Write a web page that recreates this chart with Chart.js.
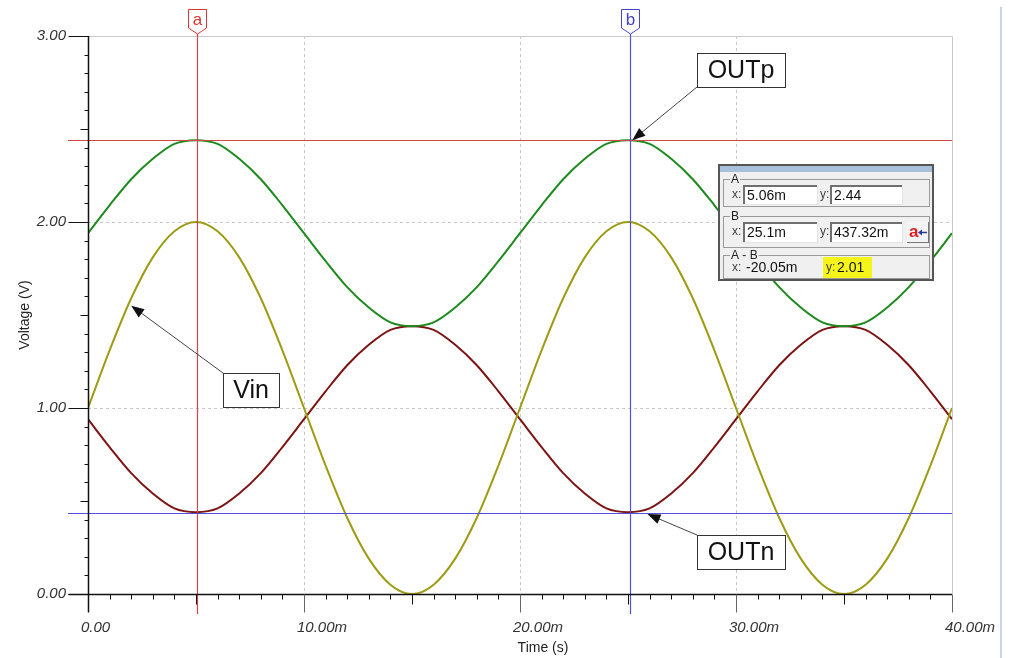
<!DOCTYPE html>
<html>
<head>
<meta charset="utf-8">
<script src="https://cdn.jsdelivr.net/npm/chart.js@4.4.1/dist/chart.umd.min.js"></script>
<style>
  html, body { margin: 0; padding: 0; background: #fff; }
  canvas { display: block; }
</style>
</head>
<body>
<canvas id="scope" width="1013" height="658"></canvas>
<script>
// time axis in ms, one sample per ms
const timeMs = [0,1,2,3,4,5,6,7,8,9,10,11,12,13,14,15,16,17,18,19,20,
                21,22,23,24,25,26,27,28,29,30,31,32,33,34,35,36,37,38,39,40];
const vin  = [1.00,1.31,1.59,1.81,1.95,2.00,1.95,1.81,1.59,1.31,1.00,0.69,0.41,0.19,0.05,0.00,0.05,0.19,0.41,0.69,1.00,
              1.31,1.59,1.81,1.95,2.00,1.95,1.81,1.59,1.31,1.00,0.69,0.41,0.19,0.05,0.00,0.05,0.19,0.41,0.69,1.00];
const outp = [1.94,2.09,2.23,2.34,2.42,2.44,2.42,2.34,2.23,2.09,1.94,1.79,1.65,1.54,1.46,1.44,1.46,1.54,1.65,1.79,1.94,
              2.09,2.23,2.34,2.42,2.44,2.42,2.34,2.23,2.09,1.94,1.79,1.65,1.54,1.46,1.44,1.46,1.54,1.65,1.79,1.94];
const outn = [0.94,0.79,0.65,0.54,0.46,0.44,0.46,0.54,0.65,0.79,0.94,1.09,1.23,1.34,1.42,1.44,1.42,1.34,1.23,1.09,0.94,
              0.79,0.65,0.54,0.46,0.44,0.46,0.54,0.65,0.79,0.94,1.09,1.23,1.34,1.42,1.44,1.42,1.34,1.23,1.09,0.94];

const xMajor = [0, 10, 20, 30, 40];
const yMajor = [0, 1, 2, 3];

// cursors a and b (time in ms, voltage)
const cursorA = { t: 5.06, v: 2.44 };
const cursorB = { t: 25.1, v: 0.43732 };

// cursor readout panel texts
const readA = ['5.06m', '2.44'];
const readB = ['25.1m', '437.32m'];
const readAB = ['-20.05m', '2.01'];

// callout labels and the point (ms, V) each arrow points at
const callouts = [
  { text: 'OUTp', t: 25.2, v: 2.44 },
  { text: 'Vin',  t: 2.0,  v: 1.55 },
  { text: 'OUTn', t: 25.9, v: 0.43 }
];

const FONT = "'Liberation Sans', Arial, sans-serif";

function pts(arr) {
  return timeMs.map((t, i) => ({ x: t, y: arr[i] }));
}

function line(ctx, x1, y1, x2, y2) {
  ctx.beginPath();
  ctx.moveTo(x1, y1);
  ctx.lineTo(x2, y2);
  ctx.stroke();
}

function arrow(ctx, x1, y1, x2, y2) {
  const ang = Math.atan2(y2 - y1, x2 - x1);
  const len = 13, wid = 5;
  ctx.strokeStyle = '#444';
  ctx.lineWidth = 1;
  line(ctx, x1, y1, x2 - Math.cos(ang) * len * 0.8, y2 - Math.sin(ang) * len * 0.8);
  ctx.fillStyle = '#111';
  ctx.beginPath();
  ctx.moveTo(x2, y2);
  ctx.lineTo(x2 - Math.cos(ang) * len - Math.sin(ang) * wid, y2 - Math.sin(ang) * len + Math.cos(ang) * wid);
  ctx.lineTo(x2 - Math.cos(ang) * len + Math.sin(ang) * wid, y2 - Math.sin(ang) * len - Math.cos(ang) * wid);
  ctx.closePath();
  ctx.fill();
}

function cursorTag(ctx, px, letter, color) {
  ctx.fillStyle = '#fff';
  ctx.strokeStyle = color;
  ctx.lineWidth = 1;
  ctx.beginPath();
  ctx.moveTo(px - 9, 9.5);
  ctx.lineTo(px + 9, 9.5);
  ctx.lineTo(px + 9, 28);
  ctx.lineTo(px, 34);
  ctx.lineTo(px - 9, 28);
  ctx.closePath();
  ctx.fill();
  ctx.stroke();
  ctx.fillStyle = color;
  ctx.font = '17px ' + FONT;
  ctx.textAlign = 'center';
  ctx.textBaseline = 'middle';
  ctx.fillText(letter, px, 20);
}

function field(ctx, x, y, w, h, text) {
  ctx.fillStyle = '#fff';
  ctx.fillRect(x, y, w, h);
  ctx.fillStyle = '#707070';
  ctx.fillRect(x, y, w, 2);
  ctx.fillRect(x, y, 2, h);
  ctx.fillStyle = '#e4e4e4';
  ctx.fillRect(x, y + h - 1, w, 1);
  ctx.fillRect(x + w - 1, y, 1, h);
  ctx.fillStyle = '#111';
  ctx.font = '14px ' + FONT;
  ctx.textAlign = 'left';
  ctx.textBaseline = 'middle';
  ctx.fillText(text, x + 4, y + h / 2 + 1);
}

function group(ctx, x, y, w, h, label) {
  ctx.strokeStyle = '#9a9a9a';
  ctx.lineWidth = 1;
  ctx.strokeRect(x + 0.5, y + 0.5, w, h);
  ctx.font = '12px ' + FONT;
  const tw = ctx.measureText(label).width;
  ctx.fillStyle = '#f0f0f0';
  ctx.fillRect(x + 7, y - 2, tw + 2, 5);
  ctx.fillStyle = '#222';
  ctx.textAlign = 'left';
  ctx.textBaseline = 'middle';
  ctx.fillText(label, x + 8, y + 1);
}

function smallLabel(ctx, x, y, text) {
  ctx.fillStyle = '#444';
  ctx.font = '12px ' + FONT;
  ctx.textAlign = 'left';
  ctx.textBaseline = 'middle';
  ctx.fillText(text, x, y);
}

function drawPanel(ctx) {
  ctx.fillStyle = '#f0f0f0';
  ctx.fillRect(718, 164, 216, 117);
  ctx.strokeStyle = '#555';
  ctx.lineWidth = 2;
  ctx.strokeRect(719, 165, 214, 115);
  ctx.fillStyle = '#a9c0da';
  ctx.fillRect(720, 166, 212, 6);

  group(ctx, 723, 179, 206, 27, 'A');
  smallLabel(ctx, 732, 195, 'x:');
  field(ctx, 743, 185, 75, 20, readA[0]);
  smallLabel(ctx, 820, 195, 'y:');
  field(ctx, 830, 185, 73, 20, readA[1]);

  group(ctx, 723, 216, 206, 31, 'B');
  smallLabel(ctx, 732, 232, 'x:');
  field(ctx, 743, 222, 75, 21, readB[0]);
  smallLabel(ctx, 820, 232, 'y:');
  field(ctx, 830, 222, 73, 21, readB[1]);

  // swap button
  ctx.fillStyle = '#f4f4f4';
  ctx.fillRect(907, 222, 22, 21);
  ctx.fillStyle = '#777';
  ctx.fillRect(907, 242, 22, 1);
  ctx.fillRect(928, 222, 1, 21);
  ctx.fillStyle = '#e02020';
  ctx.font = 'bold 17px ' + FONT;
  ctx.textAlign = 'left';
  ctx.textBaseline = 'middle';
  ctx.fillText('a', 909, 232);
  ctx.strokeStyle = '#2a3a9a';
  ctx.lineWidth = 1.5;
  line(ctx, 920, 232.5, 927, 232.5);
  ctx.fillStyle = '#2a3a9a';
  ctx.beginPath();
  ctx.moveTo(918, 232.5);
  ctx.lineTo(922, 229.5);
  ctx.lineTo(922, 235.5);
  ctx.closePath();
  ctx.fill();

  group(ctx, 723, 255, 206, 23, 'A - B');
  smallLabel(ctx, 732, 268, 'x:');
  ctx.fillStyle = '#111';
  ctx.font = '14px ' + FONT;
  ctx.fillText(readAB[0], 746, 268);
  ctx.fillStyle = '#f5f51a';
  ctx.fillRect(823, 257, 49, 21);
  ctx.fillStyle = '#444';
  ctx.font = '12px ' + FONT;
  ctx.fillText('y:', 826, 268);
  ctx.fillStyle = '#111';
  ctx.font = '14px ' + FONT;
  ctx.fillText(readAB[1], 837, 268);
}

const scopePlugin = {
  id: 'scopeDecor',
  beforeDatasetsDraw(chart) {
    const { ctx, chartArea: a, scales: { x, y } } = chart;
    ctx.save();
    ctx.lineWidth = 1;
    ctx.strokeStyle = '#c8c8c8';
    ctx.setLineDash([3, 3]);
    xMajor.slice(1, -1).forEach(t => {
      const px = Math.round(x.getPixelForValue(t)) + 0.5;
      line(ctx, px, a.top, px, a.bottom);
    });
    yMajor.slice(1, -1).forEach(v => {
      const py = Math.round(y.getPixelForValue(v)) + 0.5;
      line(ctx, a.left, py, a.right, py);
    });
    ctx.setLineDash([]);
    const top = Math.round(y.getPixelForValue(yMajor[yMajor.length - 1])) + 0.5;
    const right = Math.round(x.getPixelForValue(xMajor[xMajor.length - 1])) + 0.5;
    line(ctx, a.left, top, right, top);
    line(ctx, right, top, right, a.bottom);
    // window edge
    ctx.strokeStyle = '#c6d6f0';
    ctx.lineWidth = 2;
    line(ctx, 1001, 7, 1001, 658);
    ctx.restore();
  },
  afterDatasetsDraw(chart) {
    const { ctx, chartArea: a, scales: { x, y } } = chart;
    ctx.save();

    // cursors
    const ax = Math.round(x.getPixelForValue(cursorA.t)) + 0.5;
    const ay = Math.round(y.getPixelForValue(cursorA.v)) + 0.5;
    const bx = Math.round(x.getPixelForValue(cursorB.t)) + 0.5;
    const by = Math.round(y.getPixelForValue(cursorB.v)) + 0.5;
    ctx.lineWidth = 1.2;
    ctx.strokeStyle = '#d04848';
    line(ctx, ax, 34, ax, a.bottom + 20);
    line(ctx, a.left - 20, ay, a.right, ay);
    ctx.strokeStyle = '#5050dc';
    line(ctx, bx, 34, bx, a.bottom + 20);
    line(ctx, a.left - 20, by, a.right, by);
    cursorTag(ctx, ax, 'a', '#dd3333');
    cursorTag(ctx, bx, 'b', '#4444cc');

    // axes
    ctx.strokeStyle = '#111';
    ctx.lineWidth = 1.5;
    const x0 = Math.round(a.left) + 0.5;
    const y0 = Math.round(a.bottom) + 0.5;
    line(ctx, x0, a.top, x0, y0 + 18);
    line(ctx, x0 - 20, y0, a.right, y0);
    ctx.lineWidth = 1;
    for (let i = 0; i <= 30; i++) {
      const py = Math.round(y.getPixelForValue(i / 10)) + 0.5;
      const len = i % 10 === 0 ? 20 : (i % 5 === 0 ? 8 : 4);
      line(ctx, x0 - len, py, x0, py);
    }
    for (let i = 1; i <= 40; i++) {
      const px = Math.round(x.getPixelForValue(i)) + 0.5;
      const len = i % 10 === 0 ? 18 : (i % 5 === 0 ? 10 : 5);
      ctx.strokeStyle = i % 10 === 0 ? '#666' : '#111';
      line(ctx, px, y0, px, y0 + len);
    }

    // axis titles
    ctx.fillStyle = '#222';
    ctx.font = '14px ' + FONT;
    ctx.textAlign = 'center';
    ctx.textBaseline = 'middle';
    ctx.fillText('Time (s)', 543, 648);
    ctx.save();
    ctx.translate(25, (a.top + a.bottom) / 2);
    ctx.rotate(-Math.PI / 2);
    ctx.fillText('Voltage (V)', 0, 0);
    ctx.restore();

    // callouts
    const boxes = [
      { x: 697, y: 53, w: 88, h: 34, from: [697, 87] },
      { x: 223, y: 373, w: 56, h: 34, from: [223, 373] },
      { x: 697, y: 535, w: 88, h: 34, from: [697, 535] }
    ];
    callouts.forEach((c, i) => {
      const b = boxes[i];
      arrow(ctx, b.from[0], b.from[1], x.getPixelForValue(c.t), y.getPixelForValue(c.v));
      ctx.fillStyle = '#fff';
      ctx.fillRect(b.x, b.y, b.w, b.h);
      ctx.strokeStyle = '#333';
      ctx.lineWidth = 1;
      ctx.strokeRect(b.x + 0.5, b.y + 0.5, b.w, b.h);
      ctx.fillStyle = '#111';
      ctx.font = '25px ' + FONT;
      ctx.textAlign = 'center';
      ctx.textBaseline = 'middle';
      ctx.fillText(c.text, b.x + b.w / 2, b.y + b.h / 2 + 1);
    });

    drawPanel(ctx);
    ctx.restore();
  }
};

const tickFont = { family: FONT, size: 15, style: 'italic' };

new Chart(document.getElementById('scope'), {
  type: 'line',
  data: {
    datasets: [
      { label: 'OUTp', data: pts(outp), borderColor: '#1d8a1d' },
      { label: 'Vin',  data: pts(vin),  borderColor: '#9c9c14' },
      { label: 'OUTn', data: pts(outn), borderColor: '#7c1414' }
    ]
  },
  options: {
    responsive: false,
    devicePixelRatio: 1,
    animation: false,
    layout: { padding: { top: 36, right: 61, left: 0, bottom: 0 } },
    elements: {
      point: { radius: 0 },
      line: { borderWidth: 2, cubicInterpolationMode: 'monotone', fill: false }
    },
    plugins: { legend: { display: false }, tooltip: { enabled: false } },
    scales: {
      x: {
        type: 'linear',
        min: 0,
        max: 40,
        afterFit: s => { s.height = 64; s.paddingLeft = 0; s.paddingRight = 0; },
        grid: { display: false, drawTicks: false },
        border: { display: false },
        ticks: {
          stepSize: 10,
          maxRotation: 0,
          align: 'start',
          labelOffset: -7,
          padding: 25,
          color: '#333',
          font: tickFont,
          callback: v => v === 0 ? '0.00' : v.toFixed(2) + 'm'
        }
      },
      y: {
        min: 0,
        max: 3,
        afterFit: s => { s.width = 88; s.paddingTop = 0; s.paddingBottom = 0; },
        grid: { display: false, drawTicks: false },
        border: { display: false },
        ticks: {
          stepSize: 1,
          padding: 22,
          color: '#333',
          font: tickFont,
          callback: v => v.toFixed(2)
        }
      }
    }
  },
  plugins: [scopePlugin]
});
</script>
</body>
</html>
